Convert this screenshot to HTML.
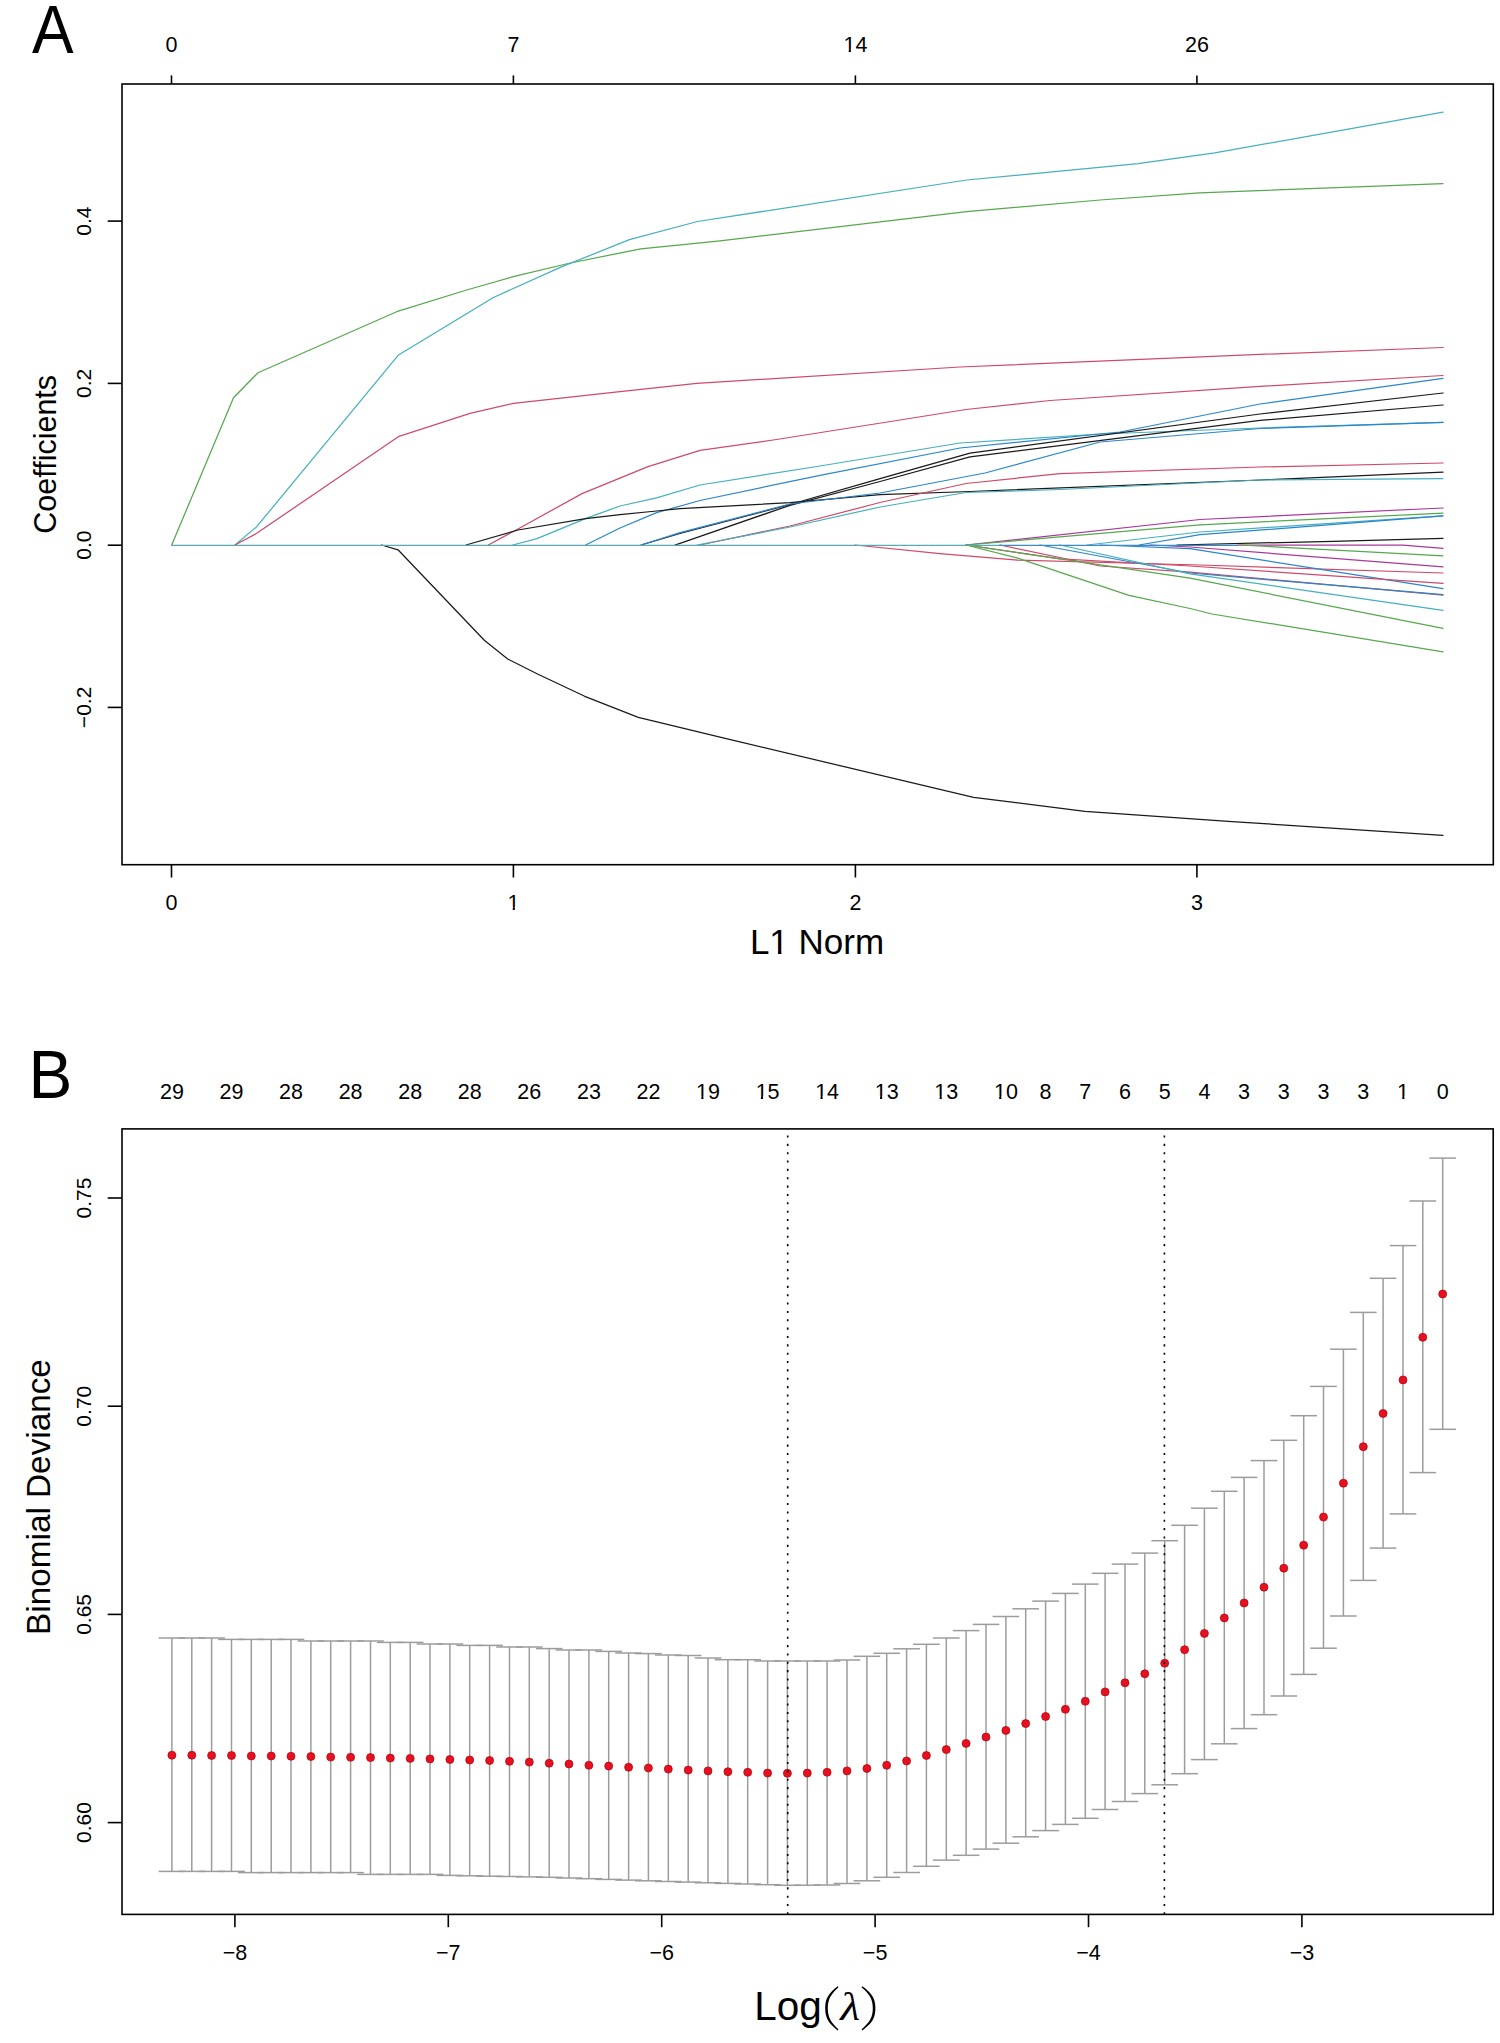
<!DOCTYPE html>
<html><head><meta charset="utf-8"><title>glmnet plots</title>
<style>html,body{margin:0;padding:0;background:#fff;}svg{display:block;}svg{font-family:"Liberation Sans", sans-serif;} text{fill:#000;}</style>
</head><body>
<svg width="1500" height="2043" viewBox="0 0 1500 2043">
<rect x="0" y="0" width="1500" height="2043" fill="#fff"/>
<g fill="none" stroke-width="1.25" stroke-linejoin="round" stroke-linecap="round">
<polyline stroke="#55a84c" points="171.7,545 233.5,397.7 258,372.7 396.7,311.7 466.7,290 513.3,276.7 568.2,263.5 640.8,248.8 720,240.8 966.7,211.7 1100,200 1199.4,192.8 1443,183.6"/>
<polyline stroke="#45b0bc" points="235,545 256.7,526.7 398.1,355.3 493.4,297.5 561.4,266.9 629.4,239.7 697.5,221.5 966.7,180 1138,163.6 1214.7,152.9 1443,112.1"/>
<polyline stroke="#cf4a68" points="235,545 256.7,533.3 398.3,436.7 470,413.3 513.3,403.3 620,391.7 696.7,383.3 960,367 1260,354.4 1443,347.5"/>
<polyline stroke="#1a1a1a" points="381.7,545 398,549.8 484.3,640.3 507.7,659 538,674.2 584.7,696.3 638.3,717.3 720,737.2 973.6,797.3 1085,811.4 1232,821.6 1443,835.3"/>
<polyline stroke="#cf4a68" points="488.3,545 518,529 582,493.6 648,466.7 700,450.3 773.3,440 900,420 966,409.5 1050,400.5 1260,386.4 1443,375.5"/>
<polyline stroke="#45b0bc" points="512.8,545 537,538.6 587.3,517.9 620,506 656.6,497.9 700,485 820,466 960,443 1100,434 1260,428 1443,422.4"/>
<polyline stroke="#2a86cc" points="585.6,545 620,528 656.6,512.7 700,500.5 820,475.3 960,448 1120,432 1260,404 1443,378.3"/>
<polyline stroke="#1a1a1a" points="466,545 518,530 585.6,518.7 620,514.7 656.6,511 680,508.7 790,502.7 880,494.7 970,491.5 1260,480 1443,472.2"/>
<polyline stroke="#1a1a1a" points="641,545 680,533.5 790,504.5 880,478.7 970,453.2 1260,414 1443,393"/>
<polyline stroke="#1a1a1a" points="675,545 680,543.3 790,505.3 880,481.5 970,456.9 1260,420.4 1443,405"/>
<polyline stroke="#2a86cc" points="641,545 680,532.7 790,504 880,493 985,473 1100,442 1260,428.5 1443,422.4"/>
<polyline stroke="#cf4a68" points="700,545 790,526 880,502.5 966,483.5 1060,473.6 1260,467 1443,463"/>
<polyline stroke="#45b0bc" points="697,545 790,527 880,507 966,492.5 1060,489.5 1260,480 1443,478.7"/>
<polyline stroke="#a8389c" points="966,545 1200,519.5 1443,508"/>
<polyline stroke="#55a84c" points="966,545 1200,524.8 1443,513.2"/>
<polyline stroke="#45b0bc" points="1087,545 1200,532 1443,515.8"/>
<polyline stroke="#2a86cc" points="1139,545 1200,534.7 1443,515.8"/>
<polyline stroke="#1a1a1a" points="1177,545 1333,541.3 1443,538.3"/>
<polyline stroke="#a8389c" points="1237,545 1403,545.2 1443,548.3"/>
<polyline stroke="#55a84c" points="1240,545 1443,555.8"/>
<polyline stroke="#a8389c" points="1150,545 1190,547 1443,566.9"/>
<polyline stroke="#cf4a68" points="855,545 940,553.7 1017.7,560.2 1200,565 1443,573"/>
<polyline stroke="#2a86cc" points="1100,545 1190,548.7 1443,588.6"/>
<polyline stroke="#cf4a68" points="966,545 1060,558.9 1190,566 1443,583.4"/>
<polyline stroke="#cf4a68" points="1000,545 1100,566 1190,572.1 1443,595.2"/>
<polyline stroke="#2a86cc" points="1040,545 1190,573 1443,594.7"/>
<polyline stroke="#45b0bc" points="1060,545 1190,573.9 1443,610.3"/>
<polyline stroke="#55a84c" points="966,545 1190,578.2 1443,628.4"/>
<polyline stroke="#55a84c" points="966,545 1017.7,558.2 1129,595.4 1190,608.5 1212,614 1443,651.8"/>
<line x1="171.7" y1="545.4" x2="1000" y2="545.4" stroke="#5aaab2" stroke-width="1.3"/>
<line x1="1000" y1="545.4" x2="1237" y2="545.4" stroke="#3a8ac8" stroke-width="1.3"/>
</g>
<g stroke="#000" stroke-width="1.6" fill="none">
<rect x="122.0" y="84.0" width="1371.3" height="780.7"/>
<line x1="171.5" y1="84.0" x2="171.5" y2="75.4"/>
<line x1="171.5" y1="864.7" x2="171.5" y2="877.5"/>
<line x1="513.4" y1="84.0" x2="513.4" y2="75.4"/>
<line x1="513.4" y1="864.7" x2="513.4" y2="877.5"/>
<line x1="855.4" y1="84.0" x2="855.4" y2="75.4"/>
<line x1="855.4" y1="864.7" x2="855.4" y2="877.5"/>
<line x1="1196.9" y1="84.0" x2="1196.9" y2="75.4"/>
<line x1="1196.9" y1="864.7" x2="1196.9" y2="877.5"/>
<line x1="122.0" y1="221.1" x2="107.7" y2="221.1"/>
<line x1="122.0" y1="383.4" x2="107.7" y2="383.4"/>
<line x1="122.0" y1="545.2" x2="107.7" y2="545.2"/>
<line x1="122.0" y1="707.4" x2="107.7" y2="707.4"/>
</g>
<g font-size="21.5" text-anchor="middle">
<text x="171.5" y="52">0</text>
<text x="513.4" y="52">7</text>
<text x="855.4" y="52">14</text>
<text x="1196.9" y="52">26</text>
<text x="171.5" y="909.5">0</text>
<text x="513.4" y="909.5">1</text>
<text x="855.4" y="909.5">2</text>
<text x="1196.9" y="909.5">3</text>
<text transform="translate(91.0 221.1) rotate(-90)" font-size="21">0.4</text>
<text transform="translate(91.0 383.4) rotate(-90)" font-size="21">0.2</text>
<text transform="translate(91.0 545.2) rotate(-90)" font-size="21">0.0</text>
<text transform="translate(91.0 707.4) rotate(-90)" font-size="21">−0.2</text>
</g>
<text x="817" y="954.3" font-size="35" text-anchor="middle">L1 Norm</text>
<text transform="translate(55.7 454.3) rotate(-90)" font-size="30.5" text-anchor="middle">Coefficients</text>
<text transform="translate(32 53.3) scale(0.91 1)" font-size="68.5">A</text>
<g stroke="#9c9c9c" stroke-width="1.5" fill="none">
<line x1="171.9" y1="1638" x2="171.9" y2="1871.4"/>
<line x1="158.6" y1="1638" x2="185.2" y2="1638"/>
<line x1="158.6" y1="1871.4" x2="185.2" y2="1871.4"/>
<line x1="191.8" y1="1638" x2="191.8" y2="1871.4"/>
<line x1="178.5" y1="1638" x2="205.1" y2="1638"/>
<line x1="178.5" y1="1871.4" x2="205.1" y2="1871.4"/>
<line x1="211.6" y1="1638" x2="211.6" y2="1871.4"/>
<line x1="198.3" y1="1638" x2="224.9" y2="1638"/>
<line x1="198.3" y1="1871.4" x2="224.9" y2="1871.4"/>
<line x1="231.5" y1="1639.4" x2="231.5" y2="1871.4"/>
<line x1="218.2" y1="1639.4" x2="244.8" y2="1639.4"/>
<line x1="218.2" y1="1871.4" x2="244.8" y2="1871.4"/>
<line x1="251.3" y1="1639.4" x2="251.3" y2="1872.6"/>
<line x1="238" y1="1639.4" x2="264.6" y2="1639.4"/>
<line x1="238" y1="1872.6" x2="264.6" y2="1872.6"/>
<line x1="271.2" y1="1639.4" x2="271.2" y2="1872.6"/>
<line x1="257.9" y1="1639.4" x2="284.5" y2="1639.4"/>
<line x1="257.9" y1="1872.6" x2="284.5" y2="1872.6"/>
<line x1="291" y1="1639.4" x2="291" y2="1872.6"/>
<line x1="277.7" y1="1639.4" x2="304.3" y2="1639.4"/>
<line x1="277.7" y1="1872.6" x2="304.3" y2="1872.6"/>
<line x1="310.9" y1="1641" x2="310.9" y2="1872.6"/>
<line x1="297.6" y1="1641" x2="324.2" y2="1641"/>
<line x1="297.6" y1="1872.6" x2="324.2" y2="1872.6"/>
<line x1="330.7" y1="1641" x2="330.7" y2="1872.6"/>
<line x1="317.4" y1="1641" x2="344" y2="1641"/>
<line x1="317.4" y1="1872.6" x2="344" y2="1872.6"/>
<line x1="350.6" y1="1641" x2="350.6" y2="1872.6"/>
<line x1="337.3" y1="1641" x2="363.9" y2="1641"/>
<line x1="337.3" y1="1872.6" x2="363.9" y2="1872.6"/>
<line x1="370.5" y1="1641" x2="370.5" y2="1874.4"/>
<line x1="357.2" y1="1641" x2="383.8" y2="1641"/>
<line x1="357.2" y1="1874.4" x2="383.8" y2="1874.4"/>
<line x1="390.3" y1="1642.4" x2="390.3" y2="1874.4"/>
<line x1="377" y1="1642.4" x2="403.6" y2="1642.4"/>
<line x1="377" y1="1874.4" x2="403.6" y2="1874.4"/>
<line x1="410.2" y1="1642.4" x2="410.2" y2="1874.4"/>
<line x1="396.9" y1="1642.4" x2="423.5" y2="1642.4"/>
<line x1="396.9" y1="1874.4" x2="423.5" y2="1874.4"/>
<line x1="430" y1="1644" x2="430" y2="1874.4"/>
<line x1="416.7" y1="1644" x2="443.3" y2="1644"/>
<line x1="416.7" y1="1874.4" x2="443.3" y2="1874.4"/>
<line x1="449.9" y1="1644" x2="449.9" y2="1875.4"/>
<line x1="436.6" y1="1644" x2="463.2" y2="1644"/>
<line x1="436.6" y1="1875.4" x2="463.2" y2="1875.4"/>
<line x1="469.7" y1="1645.4" x2="469.7" y2="1875.8"/>
<line x1="456.4" y1="1645.4" x2="483" y2="1645.4"/>
<line x1="456.4" y1="1875.8" x2="483" y2="1875.8"/>
<line x1="489.6" y1="1645.4" x2="489.6" y2="1876.2"/>
<line x1="476.3" y1="1645.4" x2="502.9" y2="1645.4"/>
<line x1="476.3" y1="1876.2" x2="502.9" y2="1876.2"/>
<line x1="509.5" y1="1647" x2="509.5" y2="1876.5"/>
<line x1="496.2" y1="1647" x2="522.8" y2="1647"/>
<line x1="496.2" y1="1876.5" x2="522.8" y2="1876.5"/>
<line x1="529.3" y1="1647" x2="529.3" y2="1876.9"/>
<line x1="516" y1="1647" x2="542.6" y2="1647"/>
<line x1="516" y1="1876.9" x2="542.6" y2="1876.9"/>
<line x1="549.2" y1="1648.6" x2="549.2" y2="1877.3"/>
<line x1="535.9" y1="1648.6" x2="562.5" y2="1648.6"/>
<line x1="535.9" y1="1877.3" x2="562.5" y2="1877.3"/>
<line x1="569" y1="1650" x2="569" y2="1878"/>
<line x1="555.7" y1="1650" x2="582.3" y2="1650"/>
<line x1="555.7" y1="1878" x2="582.3" y2="1878"/>
<line x1="588.9" y1="1650" x2="588.9" y2="1878.7"/>
<line x1="575.6" y1="1650" x2="602.2" y2="1650"/>
<line x1="575.6" y1="1878.7" x2="602.2" y2="1878.7"/>
<line x1="608.7" y1="1651.4" x2="608.7" y2="1879.4"/>
<line x1="595.4" y1="1651.4" x2="622" y2="1651.4"/>
<line x1="595.4" y1="1879.4" x2="622" y2="1879.4"/>
<line x1="628.6" y1="1653" x2="628.6" y2="1880.1"/>
<line x1="615.3" y1="1653" x2="641.9" y2="1653"/>
<line x1="615.3" y1="1880.1" x2="641.9" y2="1880.1"/>
<line x1="648.4" y1="1653.6" x2="648.4" y2="1880.8"/>
<line x1="635.1" y1="1653.6" x2="661.7" y2="1653.6"/>
<line x1="635.1" y1="1880.8" x2="661.7" y2="1880.8"/>
<line x1="668.3" y1="1655" x2="668.3" y2="1881.5"/>
<line x1="655" y1="1655" x2="681.6" y2="1655"/>
<line x1="655" y1="1881.5" x2="681.6" y2="1881.5"/>
<line x1="688.2" y1="1655.5" x2="688.2" y2="1882.1"/>
<line x1="674.9" y1="1655.5" x2="701.5" y2="1655.5"/>
<line x1="674.9" y1="1882.1" x2="701.5" y2="1882.1"/>
<line x1="708" y1="1658" x2="708" y2="1882.8"/>
<line x1="694.7" y1="1658" x2="721.3" y2="1658"/>
<line x1="694.7" y1="1882.8" x2="721.3" y2="1882.8"/>
<line x1="727.9" y1="1659.7" x2="727.9" y2="1883.4"/>
<line x1="714.6" y1="1659.7" x2="741.2" y2="1659.7"/>
<line x1="714.6" y1="1883.4" x2="741.2" y2="1883.4"/>
<line x1="747.7" y1="1659.7" x2="747.7" y2="1884"/>
<line x1="734.4" y1="1659.7" x2="761" y2="1659.7"/>
<line x1="734.4" y1="1884" x2="761" y2="1884"/>
<line x1="767.6" y1="1661" x2="767.6" y2="1884.7"/>
<line x1="754.3" y1="1661" x2="780.9" y2="1661"/>
<line x1="754.3" y1="1884.7" x2="780.9" y2="1884.7"/>
<line x1="787.4" y1="1661" x2="787.4" y2="1885.3"/>
<line x1="774.1" y1="1661" x2="800.7" y2="1661"/>
<line x1="774.1" y1="1885.3" x2="800.7" y2="1885.3"/>
<line x1="807.3" y1="1661" x2="807.3" y2="1885.2"/>
<line x1="794" y1="1661" x2="820.6" y2="1661"/>
<line x1="794" y1="1885.2" x2="820.6" y2="1885.2"/>
<line x1="827.1" y1="1661" x2="827.1" y2="1885"/>
<line x1="813.8" y1="1661" x2="840.4" y2="1661"/>
<line x1="813.8" y1="1885" x2="840.4" y2="1885"/>
<line x1="847" y1="1660" x2="847" y2="1883.5"/>
<line x1="833.7" y1="1660" x2="860.3" y2="1660"/>
<line x1="833.7" y1="1883.5" x2="860.3" y2="1883.5"/>
<line x1="866.9" y1="1656.3" x2="866.9" y2="1880.8"/>
<line x1="853.6" y1="1656.3" x2="880.2" y2="1656.3"/>
<line x1="853.6" y1="1880.8" x2="880.2" y2="1880.8"/>
<line x1="886.7" y1="1653.3" x2="886.7" y2="1877.3"/>
<line x1="873.4" y1="1653.3" x2="900" y2="1653.3"/>
<line x1="873.4" y1="1877.3" x2="900" y2="1877.3"/>
<line x1="906.6" y1="1648.8" x2="906.6" y2="1872.5"/>
<line x1="893.3" y1="1648.8" x2="919.9" y2="1648.8"/>
<line x1="893.3" y1="1872.5" x2="919.9" y2="1872.5"/>
<line x1="926.4" y1="1644.3" x2="926.4" y2="1866.3"/>
<line x1="913.1" y1="1644.3" x2="939.7" y2="1644.3"/>
<line x1="913.1" y1="1866.3" x2="939.7" y2="1866.3"/>
<line x1="946.3" y1="1638" x2="946.3" y2="1860.1"/>
<line x1="933" y1="1638" x2="959.6" y2="1638"/>
<line x1="933" y1="1860.1" x2="959.6" y2="1860.1"/>
<line x1="966.1" y1="1630.6" x2="966.1" y2="1855.3"/>
<line x1="952.8" y1="1630.6" x2="979.4" y2="1630.6"/>
<line x1="952.8" y1="1855.3" x2="979.4" y2="1855.3"/>
<line x1="986" y1="1624.4" x2="986" y2="1849.1"/>
<line x1="972.7" y1="1624.4" x2="999.3" y2="1624.4"/>
<line x1="972.7" y1="1849.1" x2="999.3" y2="1849.1"/>
<line x1="1005.9" y1="1616.5" x2="1005.9" y2="1843.2"/>
<line x1="992.6" y1="1616.5" x2="1019.2" y2="1616.5"/>
<line x1="992.6" y1="1843.2" x2="1019.2" y2="1843.2"/>
<line x1="1025.7" y1="1608.8" x2="1025.7" y2="1836.8"/>
<line x1="1012.4" y1="1608.8" x2="1039" y2="1608.8"/>
<line x1="1012.4" y1="1836.8" x2="1039" y2="1836.8"/>
<line x1="1045.6" y1="1601.1" x2="1045.6" y2="1830.6"/>
<line x1="1032.3" y1="1601.1" x2="1058.9" y2="1601.1"/>
<line x1="1032.3" y1="1830.6" x2="1058.9" y2="1830.6"/>
<line x1="1065.4" y1="1593.4" x2="1065.4" y2="1824.4"/>
<line x1="1052.1" y1="1593.4" x2="1078.7" y2="1593.4"/>
<line x1="1052.1" y1="1824.4" x2="1078.7" y2="1824.4"/>
<line x1="1085.3" y1="1584.1" x2="1085.3" y2="1818.3"/>
<line x1="1072" y1="1584.1" x2="1098.6" y2="1584.1"/>
<line x1="1072" y1="1818.3" x2="1098.6" y2="1818.3"/>
<line x1="1105.1" y1="1573.3" x2="1105.1" y2="1809.5"/>
<line x1="1091.8" y1="1573.3" x2="1118.4" y2="1573.3"/>
<line x1="1091.8" y1="1809.5" x2="1118.4" y2="1809.5"/>
<line x1="1125" y1="1564.1" x2="1125" y2="1801.5"/>
<line x1="1111.7" y1="1564.1" x2="1138.3" y2="1564.1"/>
<line x1="1111.7" y1="1801.5" x2="1138.3" y2="1801.5"/>
<line x1="1144.8" y1="1553.1" x2="1144.8" y2="1793.6"/>
<line x1="1131.5" y1="1553.1" x2="1158.1" y2="1553.1"/>
<line x1="1131.5" y1="1793.6" x2="1158.1" y2="1793.6"/>
<line x1="1164.7" y1="1540.7" x2="1164.7" y2="1784.8"/>
<line x1="1151.4" y1="1540.7" x2="1178" y2="1540.7"/>
<line x1="1151.4" y1="1784.8" x2="1178" y2="1784.8"/>
<line x1="1184.6" y1="1525.3" x2="1184.6" y2="1773.7"/>
<line x1="1171.3" y1="1525.3" x2="1197.9" y2="1525.3"/>
<line x1="1171.3" y1="1773.7" x2="1197.9" y2="1773.7"/>
<line x1="1204.4" y1="1508.2" x2="1204.4" y2="1759.6"/>
<line x1="1191.1" y1="1508.2" x2="1217.7" y2="1508.2"/>
<line x1="1191.1" y1="1759.6" x2="1217.7" y2="1759.6"/>
<line x1="1224.3" y1="1491.3" x2="1224.3" y2="1743.8"/>
<line x1="1211" y1="1491.3" x2="1237.6" y2="1491.3"/>
<line x1="1211" y1="1743.8" x2="1237.6" y2="1743.8"/>
<line x1="1244.1" y1="1477.4" x2="1244.1" y2="1728.6"/>
<line x1="1230.8" y1="1477.4" x2="1257.4" y2="1477.4"/>
<line x1="1230.8" y1="1728.6" x2="1257.4" y2="1728.6"/>
<line x1="1264" y1="1460.6" x2="1264" y2="1714.7"/>
<line x1="1250.7" y1="1460.6" x2="1277.3" y2="1460.6"/>
<line x1="1250.7" y1="1714.7" x2="1277.3" y2="1714.7"/>
<line x1="1283.8" y1="1440.3" x2="1283.8" y2="1696"/>
<line x1="1270.5" y1="1440.3" x2="1297.1" y2="1440.3"/>
<line x1="1270.5" y1="1696" x2="1297.1" y2="1696"/>
<line x1="1303.7" y1="1415.7" x2="1303.7" y2="1674.4"/>
<line x1="1290.4" y1="1415.7" x2="1317" y2="1415.7"/>
<line x1="1290.4" y1="1674.4" x2="1317" y2="1674.4"/>
<line x1="1323.5" y1="1386.4" x2="1323.5" y2="1648.2"/>
<line x1="1310.2" y1="1386.4" x2="1336.8" y2="1386.4"/>
<line x1="1310.2" y1="1648.2" x2="1336.8" y2="1648.2"/>
<line x1="1343.4" y1="1349.2" x2="1343.4" y2="1616"/>
<line x1="1330.1" y1="1349.2" x2="1356.7" y2="1349.2"/>
<line x1="1330.1" y1="1616" x2="1356.7" y2="1616"/>
<line x1="1363.3" y1="1312.4" x2="1363.3" y2="1580.4"/>
<line x1="1350" y1="1312.4" x2="1376.6" y2="1312.4"/>
<line x1="1350" y1="1580.4" x2="1376.6" y2="1580.4"/>
<line x1="1383.1" y1="1278.3" x2="1383.1" y2="1548.1"/>
<line x1="1369.8" y1="1278.3" x2="1396.4" y2="1278.3"/>
<line x1="1369.8" y1="1548.1" x2="1396.4" y2="1548.1"/>
<line x1="1403" y1="1245.6" x2="1403" y2="1513.9"/>
<line x1="1389.7" y1="1245.6" x2="1416.3" y2="1245.6"/>
<line x1="1389.7" y1="1513.9" x2="1416.3" y2="1513.9"/>
<line x1="1422.8" y1="1201" x2="1422.8" y2="1472.6"/>
<line x1="1409.5" y1="1201" x2="1436.1" y2="1201"/>
<line x1="1409.5" y1="1472.6" x2="1436.1" y2="1472.6"/>
<line x1="1442.7" y1="1158.1" x2="1442.7" y2="1429.3"/>
<line x1="1429.4" y1="1158.1" x2="1456" y2="1158.1"/>
<line x1="1429.4" y1="1429.3" x2="1456" y2="1429.3"/>
</g>
<g fill="#e6101e" stroke="#b0000e" stroke-width="0.7">
<circle cx="171.9" cy="1755.2" r="4.0"/>
<circle cx="191.8" cy="1755.2" r="4.0"/>
<circle cx="211.6" cy="1755.5" r="4.0"/>
<circle cx="231.5" cy="1755.5" r="4.0"/>
<circle cx="251.3" cy="1756" r="4.0"/>
<circle cx="271.2" cy="1756" r="4.0"/>
<circle cx="291" cy="1756.3" r="4.0"/>
<circle cx="310.9" cy="1756.5" r="4.0"/>
<circle cx="330.7" cy="1757.1" r="4.0"/>
<circle cx="350.6" cy="1757.3" r="4.0"/>
<circle cx="370.5" cy="1757.6" r="4.0"/>
<circle cx="390.3" cy="1758.1" r="4.0"/>
<circle cx="410.2" cy="1758.4" r="4.0"/>
<circle cx="430" cy="1758.9" r="4.0"/>
<circle cx="449.9" cy="1759.5" r="4.0"/>
<circle cx="469.7" cy="1760" r="4.0"/>
<circle cx="489.6" cy="1760.5" r="4.0"/>
<circle cx="509.5" cy="1761.3" r="4.0"/>
<circle cx="529.3" cy="1762.1" r="4.0"/>
<circle cx="549.2" cy="1763.2" r="4.0"/>
<circle cx="569" cy="1764" r="4.0"/>
<circle cx="588.9" cy="1765.3" r="4.0"/>
<circle cx="608.7" cy="1766.1" r="4.0"/>
<circle cx="628.6" cy="1767.2" r="4.0"/>
<circle cx="648.4" cy="1768" r="4.0"/>
<circle cx="668.3" cy="1769.1" r="4.0"/>
<circle cx="688.2" cy="1770.1" r="4.0"/>
<circle cx="708" cy="1770.9" r="4.0"/>
<circle cx="727.9" cy="1771.7" r="4.0"/>
<circle cx="747.7" cy="1772.3" r="4.0"/>
<circle cx="767.6" cy="1773.1" r="4.0"/>
<circle cx="787.4" cy="1773.3" r="4.0"/>
<circle cx="807.3" cy="1773.1" r="4.0"/>
<circle cx="827.1" cy="1772.3" r="4.0"/>
<circle cx="847" cy="1770.9" r="4.0"/>
<circle cx="866.9" cy="1768.5" r="4.0"/>
<circle cx="886.7" cy="1765.3" r="4.0"/>
<circle cx="906.6" cy="1761" r="4.0"/>
<circle cx="926.4" cy="1755.5" r="4.0"/>
<circle cx="946.3" cy="1749.6" r="4.0"/>
<circle cx="966.1" cy="1743.4" r="4.0"/>
<circle cx="986" cy="1737" r="4.0"/>
<circle cx="1005.9" cy="1730.4" r="4.0"/>
<circle cx="1025.7" cy="1723.6" r="4.0"/>
<circle cx="1045.6" cy="1716.5" r="4.0"/>
<circle cx="1065.4" cy="1709.3" r="4.0"/>
<circle cx="1085.3" cy="1701.3" r="4.0"/>
<circle cx="1105.1" cy="1691.9" r="4.0"/>
<circle cx="1125" cy="1682.8" r="4.0"/>
<circle cx="1144.8" cy="1673.8" r="4.0"/>
<circle cx="1164.7" cy="1663.2" r="4.0"/>
<circle cx="1184.6" cy="1649.7" r="4.0"/>
<circle cx="1204.4" cy="1633.4" r="4.0"/>
<circle cx="1224.3" cy="1617.9" r="4.0"/>
<circle cx="1244.1" cy="1603" r="4.0"/>
<circle cx="1264" cy="1587.2" r="4.0"/>
<circle cx="1283.8" cy="1568.2" r="4.0"/>
<circle cx="1303.7" cy="1545.2" r="4.0"/>
<circle cx="1323.5" cy="1517.1" r="4.0"/>
<circle cx="1343.4" cy="1483.2" r="4.0"/>
<circle cx="1363.3" cy="1446.7" r="4.0"/>
<circle cx="1383.1" cy="1413.5" r="4.0"/>
<circle cx="1403" cy="1379.9" r="4.0"/>
<circle cx="1422.8" cy="1337.3" r="4.0"/>
<circle cx="1442.7" cy="1294" r="4.0"/>
</g>
<g stroke="#000" stroke-width="1.6" stroke-dasharray="2.09 6.264" stroke-dashoffset="1.804">
<line x1="787.7" y1="1128.9" x2="787.7" y2="1914.4"/>
<line x1="1164.4" y1="1128.9" x2="1164.4" y2="1914.4"/>
</g>
<g stroke="#000" stroke-width="1.6" fill="none">
<rect x="122.0" y="1128.9" width="1371.2" height="785.5"/>
<line x1="234.9" y1="1914.4" x2="234.9" y2="1927.2"/>
<line x1="448.3" y1="1914.4" x2="448.3" y2="1927.2"/>
<line x1="661.7" y1="1914.4" x2="661.7" y2="1927.2"/>
<line x1="875.1" y1="1914.4" x2="875.1" y2="1927.2"/>
<line x1="1088.5" y1="1914.4" x2="1088.5" y2="1927.2"/>
<line x1="1301.9" y1="1914.4" x2="1301.9" y2="1927.2"/>
<line x1="122.0" y1="1198.0" x2="107.7" y2="1198.0"/>
<line x1="122.0" y1="1406.2" x2="107.7" y2="1406.2"/>
<line x1="122.0" y1="1614.4" x2="107.7" y2="1614.4"/>
<line x1="122.0" y1="1822.6" x2="107.7" y2="1822.6"/>
</g>
<g font-size="21.5" text-anchor="middle">
<text x="171.9" y="1099">29</text>
<text x="231.5" y="1099">29</text>
<text x="291" y="1099">28</text>
<text x="350.6" y="1099">28</text>
<text x="410.2" y="1099">28</text>
<text x="469.7" y="1099">28</text>
<text x="529.3" y="1099">26</text>
<text x="588.9" y="1099">23</text>
<text x="648.4" y="1099">22</text>
<text x="708" y="1099">19</text>
<text x="767.6" y="1099">15</text>
<text x="827.1" y="1099">14</text>
<text x="886.7" y="1099">13</text>
<text x="946.3" y="1099">13</text>
<text x="1005.9" y="1099">10</text>
<text x="1045.6" y="1099">8</text>
<text x="1085.3" y="1099">7</text>
<text x="1125" y="1099">6</text>
<text x="1164.7" y="1099">5</text>
<text x="1204.4" y="1099">4</text>
<text x="1244.1" y="1099">3</text>
<text x="1283.8" y="1099">3</text>
<text x="1323.5" y="1099">3</text>
<text x="1363.3" y="1099">3</text>
<text x="1403" y="1099">1</text>
<text x="1442.7" y="1099">0</text>
<text x="234.9" y="1960">−8</text>
<text x="448.3" y="1960">−7</text>
<text x="661.7" y="1960">−6</text>
<text x="875.1" y="1960">−5</text>
<text x="1088.5" y="1960">−4</text>
<text x="1301.9" y="1960">−3</text>
<text transform="translate(91.2 1198.0) rotate(-90)" font-size="21">0.75</text>
<text transform="translate(91.2 1406.2) rotate(-90)" font-size="21">0.70</text>
<text transform="translate(91.2 1614.4) rotate(-90)" font-size="21">0.65</text>
<text transform="translate(91.2 1822.6) rotate(-90)" font-size="21">0.60</text>
</g>
<text transform="translate(50.2 1497) rotate(-90)" font-size="33.3" text-anchor="middle">Binomial Deviance</text>
<text x="754.3" y="2019.6" font-size="40.5">Log</text>
<g style="font-family:'Liberation Serif', serif">
</g>
<path fill="#000" d="M 837.60 1986.30 C 828.70 1993.30 825.20 1998.35 825.20 2008.35 C 825.20 2018.35 828.70 2023.40 837.60 2030.40 L 838.50 2029.50 C 830.80 2022.40 827.80 2017.35 827.80 2008.35 C 827.80 1999.35 830.80 1994.30 838.50 1987.20 Z"/>
<path fill="#000" d="M 862.40 1986.30 C 871.90 1993.30 875.40 1998.35 875.40 2008.35 C 875.40 2018.35 871.90 2023.40 862.40 2030.40 L 861.50 2029.50 C 869.80 2022.40 872.80 2017.35 872.80 2008.35 C 872.80 1999.35 869.80 1994.30 861.50 1987.20 Z"/>
<g style="font-family:'Liberation Serif', serif">
<text transform="translate(840.2 2020.1) scale(1.18 1)" font-size="39" font-style="italic">λ</text>
</g>
<text transform="translate(28.4 1098.3) scale(0.96 1)" font-size="68.5">B</text>
<g fill="#fff">
<rect x="844.09" y="49.32" width="4.63" height="3.18"/>
<rect x="850.88" y="49.32" width="4.51" height="3.18"/>
<rect x="508.07" y="906.82" width="4.63" height="3.18"/>
<rect x="514.85" y="906.82" width="4.51" height="3.18"/>
<rect x="696.70" y="1096.32" width="4.63" height="3.18"/>
<rect x="703.49" y="1096.32" width="4.51" height="3.18"/>
<rect x="756.27" y="1096.32" width="4.63" height="3.18"/>
<rect x="763.06" y="1096.32" width="4.51" height="3.18"/>
<rect x="815.84" y="1096.32" width="4.63" height="3.18"/>
<rect x="822.62" y="1096.32" width="4.51" height="3.18"/>
<rect x="875.41" y="1096.32" width="4.63" height="3.18"/>
<rect x="882.19" y="1096.32" width="4.51" height="3.18"/>
<rect x="934.98" y="1096.32" width="4.63" height="3.18"/>
<rect x="941.76" y="1096.32" width="4.51" height="3.18"/>
<rect x="994.54" y="1096.32" width="4.63" height="3.18"/>
<rect x="1001.33" y="1096.32" width="4.51" height="3.18"/>
<rect x="1397.64" y="1096.32" width="4.63" height="3.18"/>
<rect x="1404.42" y="1096.32" width="4.51" height="3.18"/>
<rect x="770.41" y="950.57" width="7.62" height="4.23"/>
<rect x="781.38" y="950.57" width="7.35" height="4.23"/>
</g>
</svg>
</body></html>
